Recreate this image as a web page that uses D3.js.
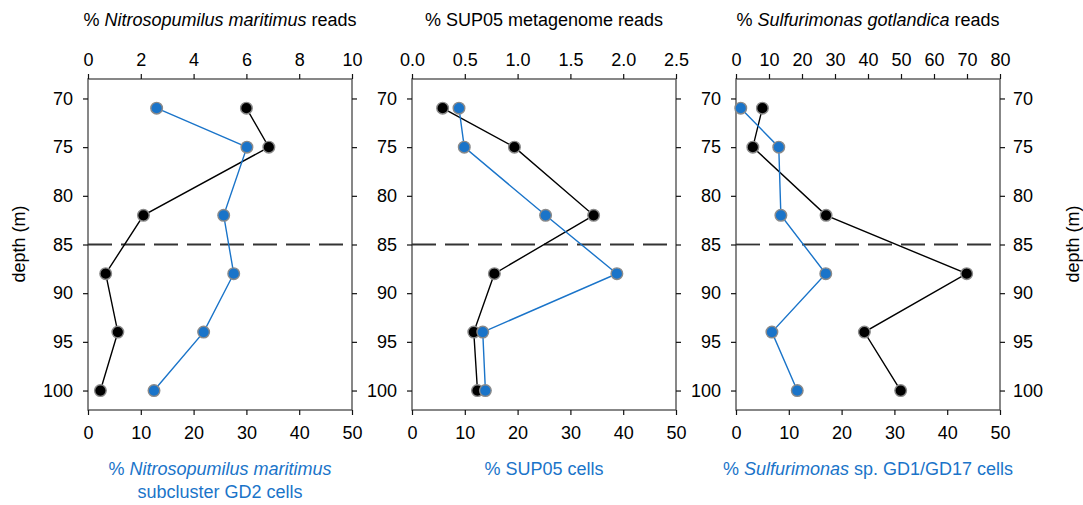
<!DOCTYPE html>
<html>
<head>
<meta charset="utf-8">
<script src="https://cdn.jsdelivr.net/npm/d3@7/dist/d3.min.js"></script>
<style>
  html, body { margin: 0; padding: 0; background: #fff; }
  svg { display: block; font-family: "Liberation Sans", Arial, Helvetica, sans-serif; }
</style>
</head>
<body>
<svg id="chart" width="1083" height="505"></svg>
<script>
// Sampling depths (m)
const depths = [71, 75, 82, 88, 94, 100];
const depthTicks = [70, 75, 80, 85, 90, 95, 100];
const redoxDepth = 85;

// Metagenome read fractions (top axes, black)
const nitroReads = [6.0, 6.85, 2.1, 0.67, 1.13, 0.47];
const sup05Reads = [0.29, 0.97, 1.72, 0.78, 0.585, 0.62];
const sulfReads = [8.0, 5.1, 27.3, 69.9, 38.9, 49.9];

// Cell fractions (bottom axes, blue)
const nitroCells = [13.0, 30.1, 25.7, 27.6, 21.9, 12.5];
const sup05Cells = [8.9, 9.9, 25.3, 38.8, 13.4, 13.9];
const sulfCells = [0.9, 8.1, 8.5, 17.0, 6.8, 11.6];

// Axis ticks
const nitroReadTicks = [0, 2, 4, 6, 8, 10];
const sup05ReadTicks = [0, 0.5, 1.0, 1.5, 2.0, 2.5];
const sulfReadTicks = [0, 10, 20, 30, 40, 50, 60, 70, 80];
const cellTicks = [0, 10, 20, 30, 40, 50];

const BLUE = "#1a74c9";
const FS = 18;

const panels = [
  { left: 88, reads: nitroReads, cells: nitroCells, readMax: 10, readTicks: nitroReadTicks, fmt: d3.format("d"),
    title: [["% ", false], ["Nitrosopumilus maritimus", true], [" reads", false]],
    cellLabel: [[["% ", false], ["Nitrosopumilus maritimus", true]], [["subcluster GD2 cells", false]]],
    leftLabels: true, rightLabels: false },
  { left: 412, reads: sup05Reads, cells: sup05Cells, readMax: 2.5, readTicks: sup05ReadTicks, fmt: d3.format(".1f"),
    title: [["% SUP05 metagenome reads", false]],
    cellLabel: [[["% SUP05 cells", false]]],
    leftLabels: true, rightLabels: false },
  { left: 736, reads: sulfReads, cells: sulfCells, readMax: 80, readTicks: sulfReadTicks, fmt: d3.format("d"),
    title: [["% ", false], ["Sulfurimonas gotlandica", true], [" reads", false]],
    cellLabel: [[["% ", false], ["Sulfurimonas", true], [" sp. GD1/GD17 cells", false]]],
    leftLabels: true, rightLabels: true }
];

const W = 264, plotTop = 79, plotBottom = 410;
const svg = d3.select("#chart");

const y = d3.scaleLinear().domain([68, 102]).range([plotTop, plotBottom]);

function richText(g, parts, x, yPos, color) {
  const t = g.append("text")
    .attr("x", x).attr("y", yPos)
    .attr("text-anchor", "middle")
    .attr("font-size", FS)
    .attr("fill", color);
  parts.forEach(([s, it]) => {
    t.append("tspan").text(s).attr("font-style", it ? "italic" : "normal");
  });
}

function styleAxis(g) {
  g.select(".domain").remove();
  g.selectAll(".tick line").attr("stroke", "#111").attr("stroke-width", 1.2);
  g.selectAll(".tick text").attr("font-size", FS).attr("fill", "#000")
    .attr("font-family", "Liberation Sans, Arial, sans-serif");
}

panels.forEach(p => {
  const g = svg.append("g");
  const xr = d3.scaleLinear().domain([0, p.readMax]).range([p.left, p.left + W]);
  const xc = d3.scaleLinear().domain([0, 50]).range([p.left, p.left + W]);

  // Frame
  g.append("rect")
    .attr("x", p.left).attr("y", plotTop).attr("width", W).attr("height", plotBottom - plotTop)
    .attr("fill", "none").attr("stroke", "#555").attr("stroke-width", 1.4);

  // Top axis: read fraction
  const ta = g.append("g").attr("transform", `translate(0,${plotTop})`)
    .call(d3.axisTop(xr).tickValues(p.readTicks).tickFormat(p.fmt).tickSize(5).tickPadding(8));
  styleAxis(ta);

  // Bottom axis: cell fraction
  const ba = g.append("g").attr("transform", `translate(0,${plotBottom})`)
    .call(d3.axisBottom(xc).tickValues(cellTicks).tickFormat(d3.format("d")).tickSize(5).tickPadding(11));
  styleAxis(ba);

  // Depth axes
  const la = g.append("g").attr("transform", `translate(${p.left},0)`)
    .call(d3.axisLeft(y).tickValues(depthTicks).tickSize(5).tickPadding(10)
      .tickFormat(p.leftLabels ? d3.format("d") : ""));
  styleAxis(la);
  const ra = g.append("g").attr("transform", `translate(${p.left + W},0)`)
    .call(d3.axisRight(y).tickValues(depthTicks).tickSize(5).tickPadding(8)
      .tickFormat(p.rightLabels ? d3.format("d") : ""));
  styleAxis(ra);

  // Redox boundary
  g.append("line")
    .attr("x1", p.left).attr("x2", p.left + W)
    .attr("y1", y(redoxDepth)).attr("y2", y(redoxDepth))
    .attr("stroke", "#333").attr("stroke-width", 1.8)
    .attr("stroke-dasharray", "24,9");

  // Profiles
  const readLine = d3.line().x(d => xr(d)).y((d, i) => y(depths[i]));
  const cellLine = d3.line().x(d => xc(d)).y((d, i) => y(depths[i]));

  g.append("path").datum(p.reads).attr("d", readLine)
    .attr("fill", "none").attr("stroke", "#000").attr("stroke-width", 1.4);
  g.append("path").datum(p.cells).attr("d", cellLine)
    .attr("fill", "none").attr("stroke", BLUE).attr("stroke-width", 1.4);

  g.selectAll(".rp").data(p.reads).enter().append("circle")
    .attr("cx", d => xr(d)).attr("cy", (d, i) => y(depths[i])).attr("r", 5.8)
    .attr("fill", "#000").attr("stroke", "#8a8a8a").attr("stroke-width", 1.4);
  g.selectAll(".cp").data(p.cells).enter().append("circle")
    .attr("cx", d => xc(d)).attr("cy", (d, i) => y(depths[i])).attr("r", 5.8)
    .attr("fill", BLUE).attr("stroke", "#8a8a8a").attr("stroke-width", 1.4);

  // Titles
  const cx = p.left + W / 2;
  richText(g, p.title, cx, 26, "#000");
  p.cellLabel.forEach((line, i) => richText(g, line, cx, 475 + i * 23, BLUE));
});

// Depth labels
svg.append("text")
  .attr("transform", `translate(25,244) rotate(-90)`)
  .attr("text-anchor", "middle").attr("font-size", FS).text("depth (m)");
svg.append("text")
  .attr("transform", `translate(1079,244) rotate(-90)`)
  .attr("text-anchor", "middle").attr("font-size", FS).text("depth (m)");
</script>
</body>
</html>
